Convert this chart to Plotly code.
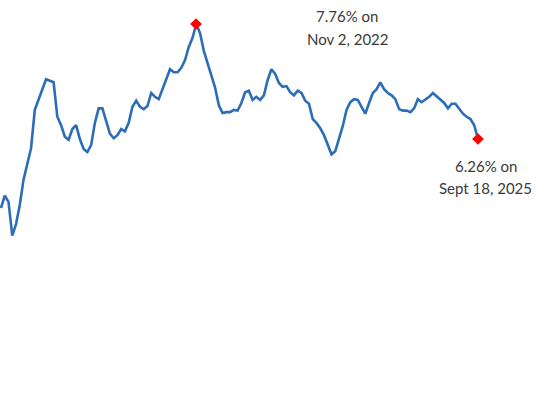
import pandas as pd
import plotly.graph_objects as go

# 30-year rate, biweekly observations ending Sept 18, 2025
end_date = "2025-09-18"
rates = [
    5.36, 5.52, 5.44, 5.00, 5.15, 5.40, 5.73, 5.95, 6.14, 6.64,
    6.77, 6.90, 7.04, 7.02, 7.00, 6.55, 6.44, 6.29, 6.25, 6.39,
    6.44, 6.26, 6.13, 6.09, 6.18, 6.47, 6.66, 6.66, 6.49, 6.33,
    6.27, 6.31, 6.39, 6.36, 6.47, 6.68, 6.76, 6.68, 6.65, 6.69,
    6.86, 6.81, 6.78, 6.91, 7.03, 7.17, 7.13, 7.13, 7.19, 7.29,
    7.46, 7.58, 7.76, 7.64, 7.41, 7.26, 7.08, 6.93, 6.70, 6.60,
    6.61, 6.61, 6.64, 6.63, 6.73, 6.87, 6.89, 6.77, 6.81, 6.77,
    6.83, 7.03, 7.17, 7.11, 6.99, 6.94, 6.95, 6.87, 6.83, 6.89,
    6.86, 6.76, 6.72, 6.52, 6.47, 6.40, 6.31, 6.18, 6.06, 6.10,
    6.26, 6.43, 6.64, 6.74, 6.78, 6.77, 6.68, 6.59, 6.73, 6.86,
    6.91, 7.00, 6.91, 6.86, 6.83, 6.78, 6.65, 6.63, 6.63, 6.61,
    6.66, 6.78, 6.74, 6.77, 6.81, 6.86, 6.82, 6.78, 6.73, 6.66,
    6.72, 6.72, 6.66, 6.59, 6.55, 6.52, 6.44, 6.26,
]
dates = pd.date_range(end=end_date, periods=len(rates), freq="14D")

# Highlighted points
peak_date, peak_value = "2022-11-02", 7.76
last_date, last_value = "2025-09-18", 6.26
peak_label = ["7.76% on", "Nov 2, 2022"]
last_label = ["6.26% on", "Sept 18, 2025"]

LINE = "#2c6db8"
TEXT = "#3a3a3a"
FONT = "Lato"

fig = go.Figure()
fig.add_trace(go.Scatter(
    x=dates, y=rates, mode="lines",
    line=dict(color=LINE, width=2.6),
    hoverinfo="skip", showlegend=False,
))
fig.add_trace(go.Scatter(
    x=[peak_date, last_date], y=[peak_value, last_value], mode="markers",
    marker=dict(symbol="diamond", color="#ff0000", size=9),
    hoverinfo="skip", showlegend=False,
))

anns = []
for (d, v, lbl, dx, dys) in [
    (peak_date, peak_value, peak_label, 151, (8, -15)),
    (last_date, last_value, last_label, 8, (-27, -49)),
]:
    for text, dy in zip(lbl, dys):
        anns.append(dict(
            x=d, y=v, xref="x", yref="y", text=text, showarrow=False,
            xshift=dx, yshift=dy, xanchor="center", yanchor="middle",
            font=dict(family=FONT, size=15, color=TEXT),
        ))

fig.update_layout(
    width=560, height=420,
    margin=dict(l=0, r=0, t=0, b=0),
    paper_bgcolor="white", plot_bgcolor="white",
    xaxis=dict(visible=False, range=["2020-11-01 07:00", "2026-07-20 17:00"]),
    yaxis=dict(visible=False, range=[2.595, 8.073]),
    annotations=anns,
)

fig.write_html(
    "out.html",
    config={"displayModeBar": False},
    post_script="document.body.style.margin='0';document.body.style.overflow='hidden';",
)
